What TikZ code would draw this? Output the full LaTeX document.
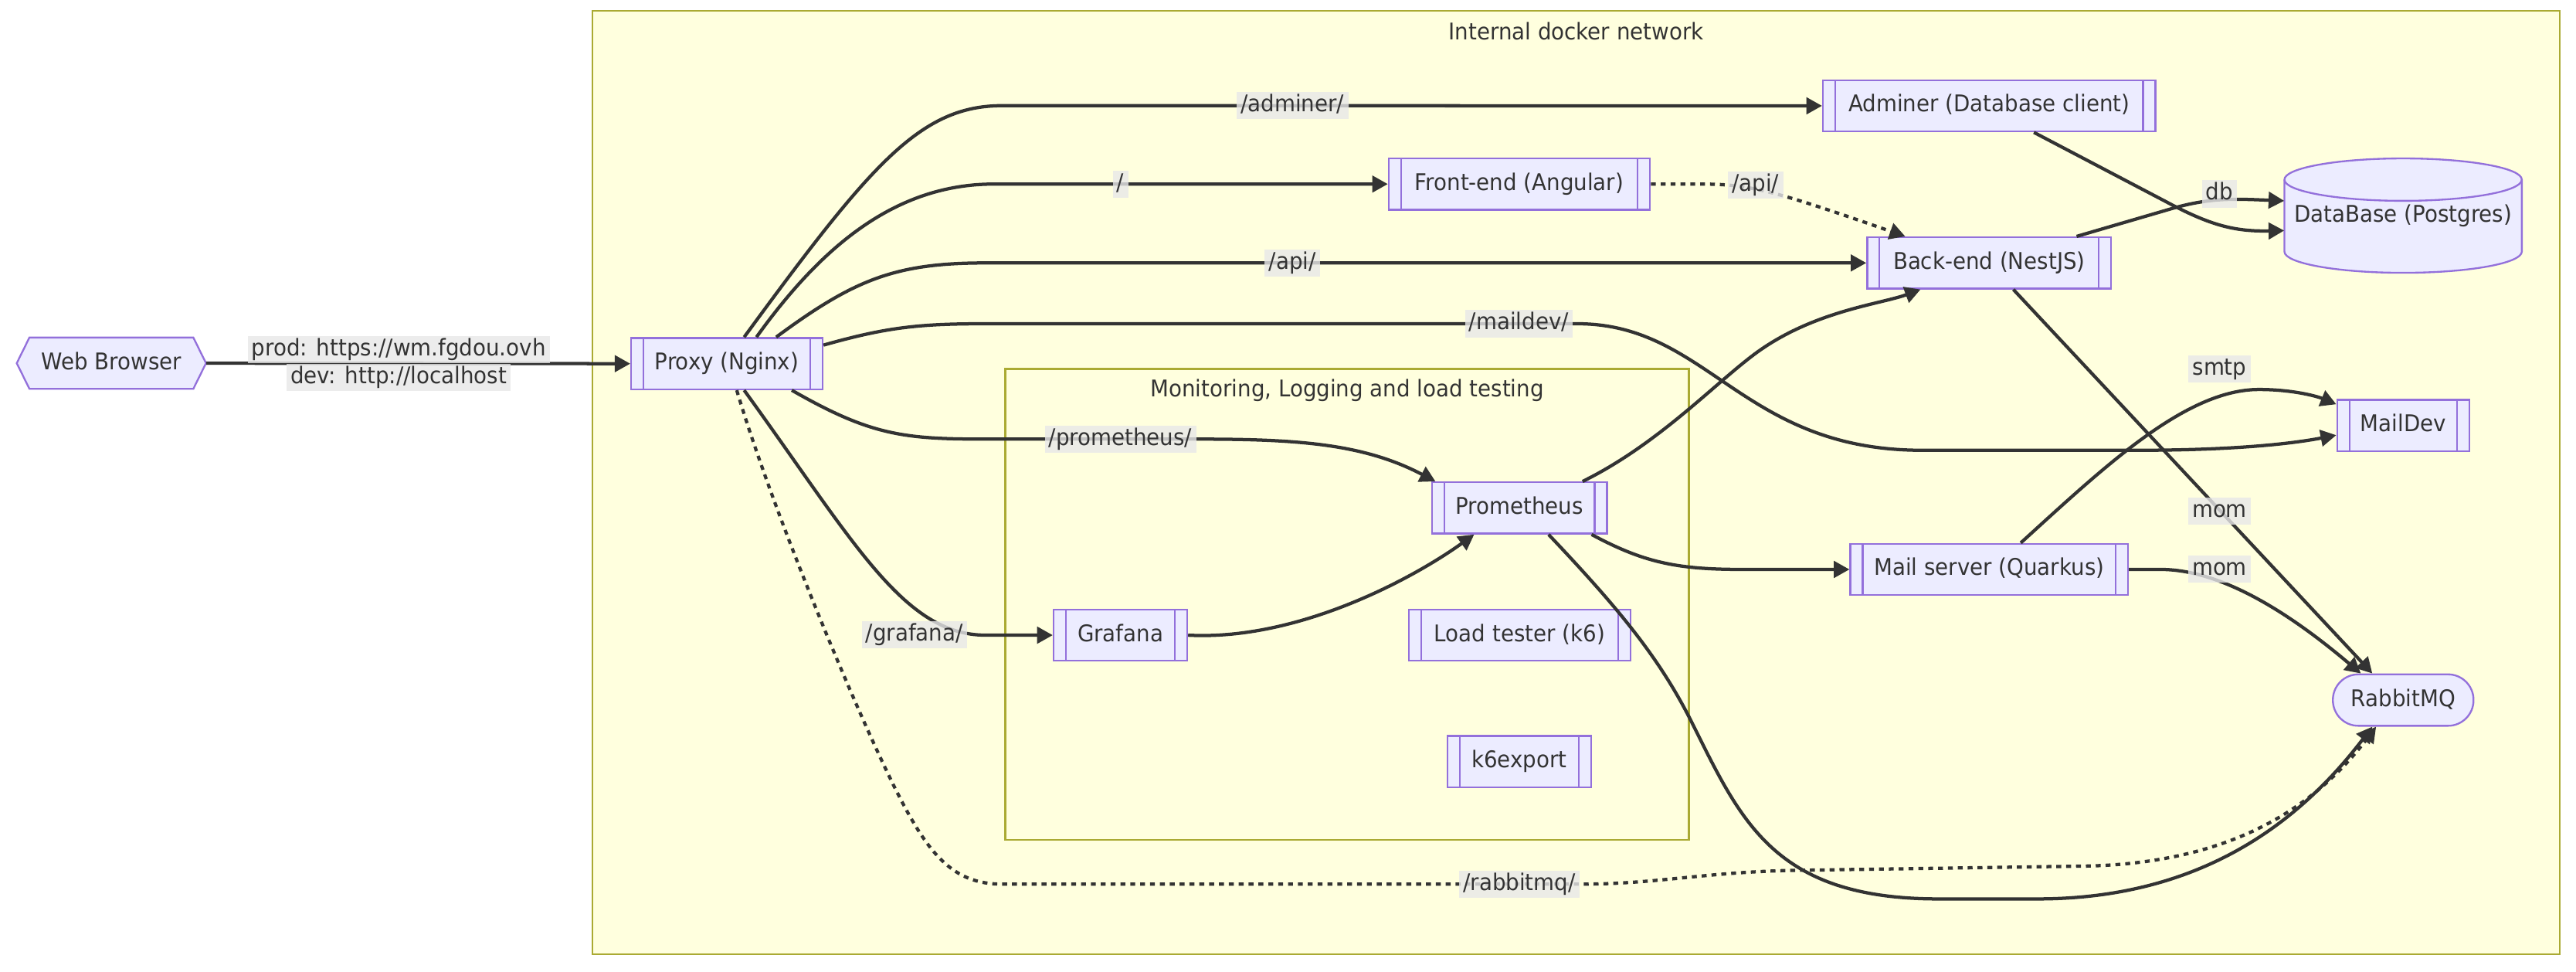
\documentclass[tikz,border=0pt]{standalone}
\usepackage{fontspec}
\setmainfont{DejaVu Sans}[FakeStretch=0.93]
\usetikzlibrary{arrows.meta}
\definecolor{clfill}{HTML}{FFFFDE}
\definecolor{clstroke}{HTML}{AAAA33}
\definecolor{ndfill}{HTML}{ECECFF}
\definecolor{ndstroke}{HTML}{9370DB}
\definecolor{txtc}{HTML}{333333}
\definecolor{edgec}{HTML}{333333}
\definecolor{lblbg}{HTML}{E8E8E8}
\tikzset{
  every node/.style={font=\fontsize{14}{17}\selectfont, text=txtc},
  cluster/.style={fill=clfill, draw=clstroke, line width=1.2pt},
  ctitle/.style={inner sep=0pt, text height=10.5pt, text depth=3pt},
  shapeline/.style={fill=ndfill, draw=ndstroke, line width=1.1pt},
  plain/.style={inner sep=0pt, text height=10.5pt, text depth=3pt},
  sub/.style={rectangle, draw=ndstroke, fill=ndfill, line width=1.1pt,
    inner sep=0pt, minimum height=31.2pt, text height=10.5pt, text depth=3pt,
    path picture={
      \draw[draw=ndstroke, line width=1.1pt]
        ([xshift=7.5pt]path picture bounding box.north west) -- ([xshift=7.5pt]path picture bounding box.south west)
        ([xshift=-7.5pt]path picture bounding box.north east) -- ([xshift=-7.5pt]path picture bounding box.south east);
    }},
  stadium/.style={rectangle, rounded corners=15.5pt, draw=ndstroke, fill=ndfill, line width=1.1pt,
    inner sep=0pt, minimum height=31.3pt, text height=10.5pt, text depth=3pt},
  conn/.style={draw=edgec, line width=2pt, -{Triangle[length=9.5pt,width=10pt]}},
  dotconn/.style={conn, dash pattern=on 3pt off 3pt},
  lbl/.style={fill=lblbg, fill opacity=0.8, text opacity=1, inner xsep=2.5pt, inner ysep=0pt,
    text height=12pt, text depth=4.6pt},
}
\begin{document}
\begin{tikzpicture}[x=1pt,y=-1pt]
\useasboundingbox (0,0) rectangle (1568,591);
\fill[white] (0,0) rectangle (1568,591);
% clusters
\draw[cluster] (360.7,6.6) rectangle (1558,580.6);
\node[ctitle] (tOuter) at (959.4,20.4) {Internal docker network};
\draw[cluster] (612,224.4) rectangle (1028,511);
\node[ctitle] (tInner) at (820,237.8) {Monitoring, Logging and load testing};
% hexagon shape
\filldraw[shapeline] (17.9,205.4) -- (117.7,205.4) -- (125.4,221) -- (117.7,236.6) -- (17.9,236.6) -- (10.2,221) -- cycle;
\node[plain, minimum width=115.2pt, minimum height=31.2pt] (browser) at (67.8,221) {Web Browser};
% cylinder shape
\filldraw[shapeline] (1390.5,109.3) -- (1390.5,153.1)
  arc[start angle=180, end angle=360, x radius=72.25pt, y radius=12.9pt]
  -- (1535,109.3)
  arc[start angle=0, end angle=180, x radius=72.25pt, y radius=12.9pt] -- cycle;
\draw[draw=ndstroke, line width=1.1pt] (1390.5,109.3) arc[start angle=180, end angle=360, x radius=72.25pt, y radius=12.9pt];
\node[plain, minimum width=144.5pt, minimum height=69.6pt] (db) at (1462.8,131.2) {DataBase (Postgres)};
% nodes
\node[sub, minimum width=116.5pt] (proxy) at (442.45,221.3) {Proxy (Nginx)};
\node[sub, minimum width=202.4pt] (adminer) at (1210.8,64.4) {Adminer (Database client)};
\node[sub, minimum width=159pt] (front) at (924.8,112) {Front-end (Angular)};
\node[sub, minimum width=148.5pt] (back) at (1210.8,160) {Back-end (NestJS)};
\node[sub, minimum width=106.6pt] (prom) at (924.9,309.1) {Prometheus};
\node[sub, minimum width=81.3pt] (graf) at (682,386.5) {Grafana};
\node[sub, minimum width=134.9pt] (k6) at (925,386.5) {Load tester (k6)};
\node[sub, minimum width=87.5pt] (k6exp) at (924.8,463.5) {k6export};
\node[sub, minimum width=80.4pt] (maildev) at (1462.8,258.9) {MailDev};
\node[sub, minimum width=169pt] (mail) at (1210.8,346.5) {Mail server (Quarkus)};
\node[stadium, minimum width=85.6pt] (rabbit) at (1462.8,426) {RabbitMQ};
% connectors
\draw[conn] (browser.east) -- (proxy.west);
\draw[conn] ([xshift=10.5pt]proxy.north) .. controls (530,100) and (560,64.3) .. (610,64.3) -- (adminer.west);
\draw[conn] ([xshift=18pt]proxy.north) .. controls (500,150) and (545,112) .. (605,112) -- (front.west);
\draw[conn] ([xshift=30pt]proxy.north) .. controls (520,170) and (545,160) .. (600,160) -- (back.west);
\draw[conn] ([yshift=11.3pt]proxy.east) .. controls (540,199) and (560,197) .. (600,197) -- (960,197)
  .. controls (1040,197) and (1060,274) .. (1170,274) -- (1300,274)
  .. controls (1360,274) and (1395,270) .. ([yshift=-5.9pt]maildev.west);
\draw[conn] ([xshift=39.5pt]proxy.south) .. controls (530,265) and (550,267.2) .. (600,267.2) -- (729,267.2)
  .. controls (790,267.2) and (830,270) .. ([xshift=2.7pt]prom.north west);
\draw[conn] ([xshift=10.5pt]proxy.south) .. controls (520,330) and (550,386.5) .. (600,386.5) -- (graf.west);
\draw[dotconn] ([xshift=6pt]proxy.south) .. controls (470,310) and (520,430) .. (545,480)
  .. controls (565,520) and (580,538) .. (610,538) -- (962,538)
  .. controls (1010,538) and (1040,530) .. (1100,529.5) -- (1270,527)
  .. controls (1360,525) and (1410,490) .. ([xshift=-16.5pt]rabbit.south);
\draw[dotconn] (front.east) -- (1035,112) .. controls (1065,112) and (1080,116) .. ([xshift=-51.1pt]back.north);
\draw[conn] ([xshift=27.2pt]adminer.south) -- (1318,122.5) .. controls (1345,137) and (1360,141) .. ([yshift=-9.1pt]db.west);
\draw[conn] ([xshift=53.2pt]back.north) -- (1320,127.5) .. controls (1345,120) and (1360,121) .. ([yshift=9pt]db.west);
\draw[conn] ([xshift=14.7pt]back.south) -- ([xshift=-18.8pt]rabbit.north);
\draw[conn] ([xshift=38.4pt]prom.north) .. controls (1010,270) and (1045,232) .. (1070,214)
  .. controls (1105,189) and (1145,185) .. ([xshift=-41.8pt]back.south);
\draw[conn] ([xshift=43.9pt]prom.south) .. controls (1000,342) and (1020,346.5) .. (1060,346.5) -- (mail.west);
\draw[conn] ([xshift=17.7pt]prom.south) .. controls (985,370) and (1010,400) .. (1030,440)
  .. controls (1060,500) and (1080,547) .. (1180,547) -- (1240,547)
  .. controls (1340,547) and (1400,500) .. ([xshift=-18.8pt]rabbit.south);
\draw[conn] (graf.east) .. controls (790,390) and (860,352) .. ([xshift=-27.6pt]prom.south);
\draw[conn] ([xshift=19.2pt]mail.north) .. controls (1280,285) and (1330,237) .. (1375,237)
  .. controls (1395,237) and (1410,241) .. ([yshift=12.9pt]maildev.west);
\draw[conn] (mail.east) -- (1315,346.5) .. controls (1350,346.5) and (1390,370) .. ([xshift=-25.8pt]rabbit.north);
% edge labels
\node[lbl] (lProd) at (242.7,212.6) {prod: https://wm.fgdou.ovh};
\node[lbl] (lDev) at (242.7,229.6) {dev: http://localhost};
\node[lbl] (lAdm) at (786.7,64.3) {/adminer/};
\node[lbl] (lRoot) at (682,112) {/};
\node[lbl] (lApi) at (786.7,160) {/api/};
\node[lbl] (lMaildev) at (924.5,197) {/maildev/};
\node[lbl] (lApi2) at (1068.6,112.5) {/api/};
\node[lbl] (lDb) at (1351,118) {db};
\node[lbl] (lSmtp) at (1351,224.5) {smtp};
\node[lbl] (lMom1) at (1351,311) {mom};
\node[lbl] (lMom2) at (1351,346.4) {mom};
\node[lbl] (lProm) at (682,267.2) {/prometheus/};
\node[lbl] (lGraf) at (556.6,386.3) {/grafana/};
\node[lbl] (lRabbit) at (924.8,538) {/rabbitmq/};
\end{tikzpicture}
\end{document}
